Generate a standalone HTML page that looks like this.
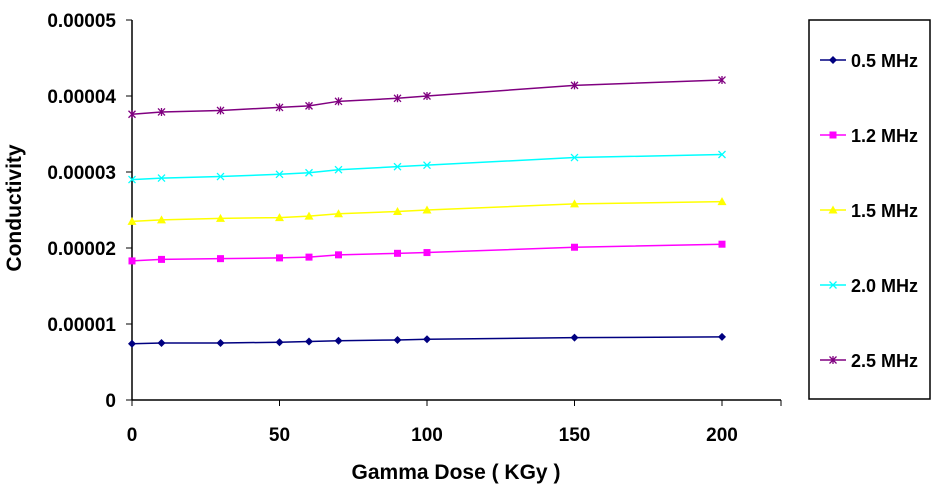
<!DOCTYPE html>
<html><head><meta charset="utf-8"><style>
body{margin:0;background:#fff}
svg text{font-family:"Liberation Sans",Arial,sans-serif;font-weight:bold}
</style></head><body>
<svg id="c" width="940" height="497" viewBox="0 0 940 497"></svg>
<script>
const doses=[0,10,30,50,60,70,90,100,150,200];
const s05=[0.74,0.75,0.75,0.76,0.77,0.78,0.79,0.80,0.82,0.83];
const s12=[1.83,1.85,1.86,1.87,1.88,1.91,1.93,1.94,2.01,2.05];
const s15=[2.35,2.37,2.39,2.40,2.42,2.45,2.48,2.50,2.58,2.61];
const s20=[2.90,2.92,2.94,2.97,2.99,3.03,3.07,3.09,3.19,3.23];
const s25=[3.76,3.79,3.81,3.85,3.87,3.93,3.97,4.00,4.14,4.21];
const seriesNames=["0.5 MHz","1.2 MHz","1.5 MHz","2.0 MHz","2.5 MHz"];
const xTicks=[0,50,100,150,200];
const yTicks=[0,1,2,3,4,5];
const yTickLabels=["0","0.00001","0.00002","0.00003","0.00004","0.00005"];
const colors=["#000080","#ff00ff","#ffff00","#00ffff","#800080"];
const markers=["diamond","square","triangle","x","star"];
const NS="http://www.w3.org/2000/svg";
const svg=document.getElementById('c');
const X=v=>132+v*(722-132)/200;
const Y=v=>400-v*76;
function mk(t,a,p){const e=document.createElementNS(NS,t);for(const k in a)e.setAttribute(k,a[k]);(p||svg).appendChild(e);return e;}
const lb=mk('rect',{x:809,y:20,width:121,height:379,fill:'#fff',stroke:'#000','stroke-width':1.5});


const ya=mk('line',{x1:132,y1:Y(5),x2:132,y2:400,stroke:'#000','stroke-width':1.5});


const xa=mk('line',{x1:132,y1:400,x2:781,y2:400,stroke:'#000','stroke-width':1.5});


yTicks.forEach((t,i)=>{
 mk('line',{x1:126,x2:132,y1:Y(t),y2:Y(t),stroke:'#000'});
 const tx=mk('text',{x:116,y:Y(t)+7,'text-anchor':'end','font-size':19});
 tx.textContent=yTickLabels[i];
 
 
});
xTicks.concat([220]).forEach(t=>mk('line',{x1:X(t),x2:X(t),y1:400,y2:406,stroke:'#000'}));
xTicks.forEach(t=>{
 const tx=mk('text',{x:X(t),y:441,'text-anchor':'middle','font-size':19});
 tx.textContent=t;
 
 
});
const xt=mk('text',{x:456,y:479,'text-anchor':'middle','font-size':21});
xt.textContent='Gamma Dose ( KGy )';


const yt=mk('text',{x:21,y:208,'text-anchor':'middle','font-size':21,transform:'rotate(-90 21 208)'});
yt.textContent='Conductivity';


function marker(type,x,y,c,g){
 if(type==='diamond')mk('polygon',{points:`${x},${y-4} ${x+4},${y} ${x},${y+4} ${x-4},${y}`,fill:c},g);
 else if(type==='square')mk('rect',{x:x-3.5,y:y-3.5,width:7,height:7,fill:c},g);
 else if(type==='triangle')mk('polygon',{points:`${x},${y-4.5} ${x+4.5},${y+3.5} ${x-4.5},${y+3.5}`,fill:c},g);
 else if(type==='x'){mk('path',{d:`M${x-3.5} ${y-3.5}L${x+3.5} ${y+3.5}M${x+3.5} ${y-3.5}L${x-3.5} ${y+3.5}`,stroke:c,'stroke-width':1.3},g);}
 else {mk('path',{d:`M${x-3.5} ${y-3.5}L${x+3.5} ${y+3.5}M${x+3.5} ${y-3.5}L${x-3.5} ${y+3.5}M${x} ${y-4}L${x} ${y+4}`,stroke:c,'stroke-width':1.3},g);}
}
[s05,s12,s15,s20,s25].forEach((s,i)=>{
 const g=mk('g',{});
 
 
 mk('polyline',{points:s.map((v,j)=>X(doses[j])+','+Y(v)).join(' '),fill:'none',stroke:colors[i],'stroke-width':1.5},g);
 s.forEach((v,j)=>marker(markers[i],X(doses[j]),Y(v),colors[i],g));
 const ly=60+i*75;
 const lg=mk('g',{});
 
 
 mk('line',{x1:820,x2:846,y1:ly,y2:ly,stroke:colors[i],'stroke-width':1.5},lg);
 marker(markers[i],833,ly,colors[i],lg);
 const lt=mk('text',{x:851,y:ly+7,'font-size':18},lg);
 lt.textContent=seriesNames[i];
});
</script>
</body></html>
